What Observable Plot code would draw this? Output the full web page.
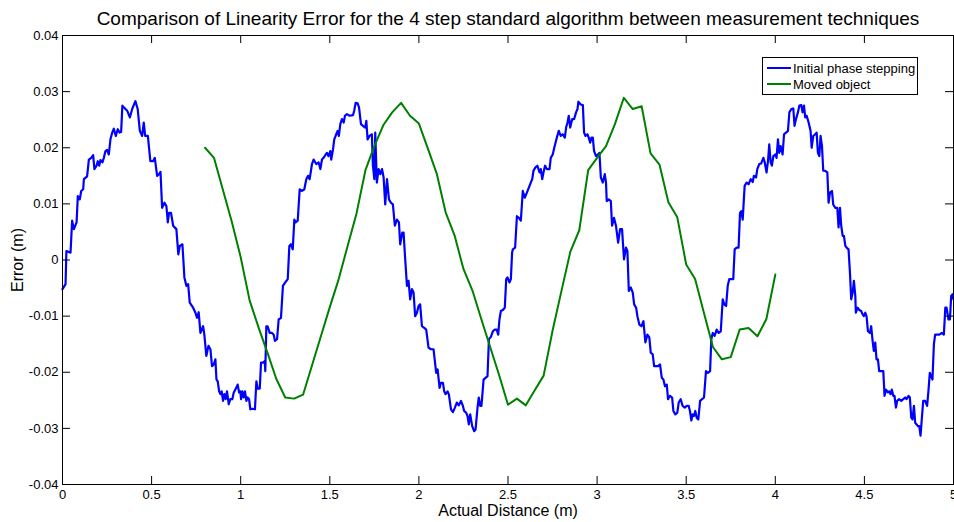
<!DOCTYPE html>
<html>
<head>
<meta charset="utf-8">
<script src="https://cdn.jsdelivr.net/npm/d3@7"></script>
<script src="https://cdn.jsdelivr.net/npm/@observablehq/plot@0.6"></script>
<style>
  html, body { margin: 0; padding: 0; background: #fff; }
  #chart { width: 954px; height: 522px; }
</style>
</head>
<body>
<div id="chart"></div>
<script>
const titleText = "Comparison of Linearity Error for the 4 step standard algorithm between measurement techniques";
const xLabel = "Actual Distance (m)";
const yLabel = "Error (m)";
const seriesNames = ["Initial phase stepping", "Moved object"];
const seriesColors = ["#0000ff", "#008000"];
const xTicks = [0, 0.5, 1, 1.5, 2, 2.5, 3, 3.5, 4, 4.5, 5];
const yTicks = [-0.04, -0.03, -0.02, -0.01, 0, 0.01, 0.02, 0.03, 0.04];

// Initial phase stepping (blue)
const blueX = [
0.000,0.017,0.022,0.045,0.054,0.064,0.079,0.086,0.097,0.105,0.116,0.120,0.138,0.148,0.161,0.172,0.179,0.191,0.198,0.206,
0.213,0.224,0.232,0.241,0.250,0.260,0.269,0.279,0.288,0.299,0.310,0.321,0.329,0.336,0.344,0.363,0.378,0.391,0.409,0.422,
0.434,0.447,0.456,0.464,0.479,0.493,0.508,0.518,0.531,0.542,0.550,0.559,0.572,0.583,0.591,0.598,0.609,0.621,0.639,0.650,
0.658,0.673,0.684,0.695,0.705,0.714,0.733,0.746,0.755,0.764,0.774,0.789,0.796,0.807,0.819,0.830,
0.839,0.849,0.858,0.864,0.871,0.879,0.886,0.893,0.901,0.908,0.916,0.923,0.933,0.942,0.953,0.961,0.970,0.983,0.991,0.998,
1.002,1.009,1.017,1.024,1.032,1.039,1.047,1.054,1.065,1.080,1.088,1.095,1.107,1.114,1.125,1.135,1.138,1.144,1.151,1.163,
1.176,1.185,1.192,1.204,1.213,1.226,1.237,1.250,1.264,1.273,1.282,1.292,1.301,1.308,1.320,1.331,1.344,1.357,1.368,1.378,
1.387,1.400,1.409,1.424,1.437,1.447,1.456,1.465,1.477,1.484,1.493,1.503,1.508,1.518,1.525,1.536,1.544,1.551,1.559,1.568,
1.578,1.585,1.596,1.611,1.630,1.637,1.645,1.656,1.664,1.675,
1.686,1.699,1.705,1.712,1.723,1.736,1.742,1.750,1.755,1.764,1.774,1.783,1.793,1.802,1.811,1.821,1.832,1.843,1.854,1.865,
1.877,1.888,1.895,1.907,1.914,1.922,1.933,1.942,1.951,1.961,1.970,1.979,1.989,1.998,2.007,2.017,2.030,2.041,2.054,2.067,
2.082,2.097,2.105,2.116,2.123,2.135,2.142,2.150,2.161,2.168,2.180,2.191,2.202,2.213,2.224,2.236,2.247,2.254,2.265,2.273,
2.280,2.288,2.299,2.310,2.318,2.329,2.336,2.344,2.351,2.363,2.374,2.385,2.393,2.404,2.415,2.426,2.437,2.445,2.452,2.460,
2.471,2.482,2.490,2.497,2.508,2.516,2.523,
2.527,2.540,2.550,2.561,2.572,2.583,2.594,2.606,2.617,2.628,2.636,2.643,2.654,2.665,2.677,2.684,2.692,2.699,2.708,2.718,
2.733,2.740,2.751,2.762,2.774,2.785,2.796,2.807,2.819,2.826,2.834,2.841,2.849,2.860,2.871,2.882,2.890,2.895,2.908,2.920,
2.927,2.935,2.946,2.953,2.961,2.968,2.976,2.983,2.994,3.006,3.013,3.021,3.032,3.043,3.050,3.054,3.065,3.077,3.084,3.095,
3.106,3.118,3.129,3.140,3.151,3.162,3.170,3.178,3.189,3.200,3.208,3.219,3.226,3.237,3.249,3.260,3.271,3.282,3.293,3.301,
3.312,3.320,3.331,3.342,3.353,3.363,
3.372,3.381,3.391,3.398,3.409,3.421,3.428,3.439,3.450,3.458,3.469,3.480,3.492,3.503,3.514,3.521,3.529,3.536,3.544,3.551,
3.559,3.568,3.578,3.589,3.600,3.611,3.622,3.634,3.641,3.649,3.660,3.671,3.682,3.694,3.705,3.714,3.724,3.733,3.742,3.753,
3.764,3.772,3.783,3.794,3.802,3.809,3.817,3.828,3.839,3.850,3.862,3.873,3.880,3.892,3.899,3.910,3.921,3.933,3.940,3.951,
3.959,3.966,3.974,3.981,3.989,4.000,4.007,4.015,4.022,4.030,4.041,4.049,4.060,4.071,4.079,4.090,4.101,4.108,4.116,4.127,
4.135,4.146,4.153,4.161,4.168,4.176,4.187,4.198,4.204,
4.213,4.224,4.232,4.239,4.247,4.254,4.262,4.269,4.280,4.292,4.299,4.307,4.318,4.325,4.336,4.348,4.355,4.363,4.370,4.378,
4.385,4.393,4.400,4.411,4.419,4.426,4.434,4.441,4.449,4.452,4.462,4.471,4.482,4.490,4.497,4.505,4.512,4.520,4.531,4.538,
4.546,4.553,4.561,4.568,4.576,4.583,4.594,4.606,4.613,4.621,4.632,4.639,4.647,4.654,4.662,4.669,4.677,4.684,4.695,4.707,
4.718,4.729,4.736,4.748,4.755,4.763,4.770,4.778,4.785,4.793,4.800,4.808,4.815,4.822,4.830,4.841,4.852,4.860,4.867,4.875,
4.882,4.890,4.897,4.908,4.920,4.935,4.946,4.954,4.961,4.972,4.980,4.987,4.995,5.000
];
const blueY = [
-0.0052,-0.0043,0.0016,0.0013,0.0070,0.0055,0.0067,0.0114,0.0108,0.0123,0.0126,0.0144,0.0149,0.0179,0.0182,0.0187,0.0162,0.0168,0.0176,0.0168,
0.0178,0.0174,0.0182,0.0194,0.0196,0.0188,0.0215,0.0227,0.0234,0.0221,0.0233,0.0227,0.0228,0.0275,0.0272,0.0266,0.0254,0.0269,0.0283,0.0269,
0.0230,0.0221,0.0245,0.0221,0.0221,0.0176,0.0176,0.0182,0.0150,0.0153,0.0157,0.0093,0.0102,0.0096,0.0067,0.0084,0.0084,0.0061,0.0055,0.0010,
0.0025,0.0028,-0.0031,-0.0046,-0.0043,-0.0076,-0.0085,-0.0094,-0.0103,-0.0093,-0.0130,-0.0118,-0.0133,-0.0171,-0.0153,-0.0159,
-0.0189,-0.0186,-0.0177,-0.0213,-0.0216,-0.0234,-0.0239,-0.0234,-0.0251,-0.0239,-0.0248,-0.0234,-0.0257,-0.0248,-0.0248,-0.0236,-0.0231,-0.0222,-0.0236,-0.0234,
-0.0248,-0.0234,-0.0245,-0.0234,-0.0251,-0.0245,-0.0248,-0.0266,-0.0265,-0.0266,-0.0216,-0.0229,-0.0229,-0.0183,-0.0183,-0.0180,-0.0198,-0.0118,-0.0118,-0.0130,
-0.0130,-0.0133,-0.0144,-0.0141,-0.0106,-0.0103,-0.0046,-0.0040,-0.0034,0.0025,0.0028,0.0019,0.0072,0.0067,0.0070,0.0126,0.0123,0.0126,0.0144,0.0150,
0.0144,0.0171,0.0179,0.0171,0.0174,0.0162,0.0179,0.0182,0.0188,0.0191,0.0185,0.0194,0.0179,0.0197,0.0215,0.0224,0.0230,0.0221,0.0242,0.0251,
0.0245,0.0257,0.0260,0.0257,0.0258,0.0266,0.0280,0.0279,0.0272,0.0242,
0.0239,0.0236,0.0248,0.0215,0.0221,0.0224,0.0168,0.0144,0.0227,0.0138,0.0162,0.0153,0.0162,0.0147,0.0099,0.0144,0.0108,0.0102,0.0099,0.0061,
0.0072,0.0067,0.0028,0.0049,0.0049,0.0007,-0.0046,-0.0037,-0.0070,-0.0052,-0.0058,-0.0100,-0.0094,-0.0082,-0.0079,-0.0118,-0.0121,-0.0124,-0.0156,-0.0159,
-0.0159,-0.0201,-0.0195,-0.0228,-0.0219,-0.0219,-0.0234,-0.0239,-0.0234,-0.0239,-0.0266,-0.0271,-0.0263,-0.0254,-0.0259,-0.0251,-0.0260,-0.0269,-0.0272,-0.0278,
-0.0293,-0.0275,-0.0296,-0.0305,-0.0302,-0.0263,-0.0245,-0.0260,-0.0260,-0.0213,-0.0210,-0.0207,-0.0141,-0.0137,-0.0127,-0.0124,-0.0124,-0.0133,-0.0106,-0.0091,
-0.0089,-0.0085,-0.0034,-0.0031,-0.0040,-0.0034,0.0013,
0.0019,0.0022,0.0078,0.0075,0.0070,0.0123,0.0111,0.0120,0.0129,0.0138,0.0144,0.0159,0.0165,0.0168,0.0156,0.0162,0.0144,0.0156,0.0168,0.0162,
0.0162,0.0182,0.0188,0.0203,0.0218,0.0230,0.0221,0.0224,0.0218,0.0236,0.0245,0.0257,0.0236,0.0251,0.0251,0.0263,0.0269,0.0282,0.0277,0.0276,
0.0227,0.0221,0.0224,0.0218,0.0209,0.0218,0.0218,0.0194,0.0185,0.0188,0.0191,0.0147,0.0138,0.0153,0.0138,0.0105,0.0108,0.0105,0.0061,0.0075,
0.0061,0.0031,0.0055,0.0055,0.0001,0.0022,0.0016,-0.0055,-0.0049,-0.0058,-0.0079,-0.0085,-0.0100,-0.0115,-0.0118,-0.0109,-0.0147,-0.0133,-0.0138,-0.0165,
-0.0168,-0.0189,-0.0189,-0.0189,-0.0186,-0.0210,
-0.0213,-0.0225,-0.0222,-0.0248,-0.0242,-0.0245,-0.0269,-0.0275,-0.0272,-0.0254,-0.0248,-0.0260,-0.0263,-0.0260,-0.0260,-0.0269,-0.0286,-0.0275,-0.0278,-0.0269,
-0.0281,-0.0284,-0.0251,-0.0248,-0.0245,-0.0198,-0.0201,-0.0198,-0.0141,-0.0130,-0.0135,-0.0124,-0.0130,-0.0127,-0.0070,-0.0079,-0.0082,-0.0046,-0.0034,-0.0034,
-0.0034,0.0019,0.0022,0.0022,0.0084,0.0087,0.0072,0.0132,0.0138,0.0135,0.0144,0.0139,0.0150,0.0147,0.0162,0.0171,0.0172,0.0182,0.0175,0.0156,
0.0176,0.0206,0.0174,0.0168,0.0185,0.0188,0.0182,0.0215,0.0191,0.0203,0.0188,0.0224,0.0227,0.0230,0.0263,0.0269,0.0270,0.0239,0.0251,0.0263,
0.0275,0.0276,0.0263,0.0275,0.0254,0.0257,0.0245,0.0230,0.0200,
0.0221,0.0224,0.0227,0.0191,0.0185,0.0221,0.0203,0.0159,0.0159,0.0156,0.0102,0.0120,0.0123,0.0099,0.0093,0.0093,0.0058,0.0093,0.0061,0.0043,
0.0043,0.0025,0.0022,0.0019,-0.0023,-0.0070,-0.0058,-0.0037,-0.0064,-0.0094,-0.0085,-0.0089,-0.0091,-0.0097,-0.0100,-0.0094,-0.0100,-0.0127,-0.0130,-0.0118,
-0.0144,-0.0162,-0.0147,-0.0177,-0.0177,-0.0198,-0.0198,-0.0198,-0.0242,-0.0231,-0.0236,-0.0234,-0.0239,-0.0231,-0.0242,-0.0242,-0.0263,-0.0251,-0.0248,-0.0251,
-0.0248,-0.0245,-0.0248,-0.0242,-0.0245,-0.0281,-0.0284,-0.0260,-0.0290,-0.0293,-0.0296,-0.0296,-0.0313,-0.0284,-0.0251,-0.0251,-0.0260,-0.0231,-0.0201,-0.0207,
-0.0213,-0.0150,-0.0133,-0.0133,-0.0133,-0.0130,-0.0133,-0.0085,-0.0085,-0.0106,-0.0106,-0.0064,-0.0061,-0.0070
];

// Moved object (green)
const greenX = [0.80,0.85,0.90,0.95,1.00,1.05,1.10,1.15,1.20,1.25,1.30,1.35,1.40,1.45,1.50,1.55,1.60,1.65,1.70,1.75,
  1.80,1.85,1.90,1.95,2.00,2.05,2.10,2.15,2.20,2.25,2.30,2.35,2.40,2.45,2.50,2.55,2.60,2.65,2.70,2.75,
  2.80,2.85,2.90,2.95,3.00,3.05,3.10,3.15,3.20,3.25,3.30,3.35,3.40,3.45,3.50,3.55,3.60,3.65,3.70,3.75,
  3.80,3.85,3.90,3.95,4.00];
const greenY = [0.0200,0.0182,0.0125,0.0068,0.0005,-0.0072,-0.0120,-0.0165,-0.0212,-0.0245,-0.0247,-0.0240,-0.0188,-0.0136,-0.0084,-0.0034,0.0025,0.0083,0.0160,0.0203,
  0.0240,0.0263,0.0280,0.0257,0.0243,0.0199,0.0154,0.0085,0.0044,-0.0016,-0.0054,-0.0105,-0.0155,-0.0205,-0.0258,-0.0247,-0.0259,-0.0232,-0.0206,-0.0126,
  -0.0055,0.0015,0.0053,0.0160,0.0182,0.0203,0.0242,0.0289,0.0269,0.0274,0.0190,0.0170,0.0103,0.0076,-0.0008,-0.0034,-0.0095,-0.0155,-0.0177,-0.0173,
  -0.0124,-0.0121,-0.0136,-0.0105,-0.0026];

const blue = blueX.map((x, i) => ({x, y: blueY[i]}));
const green = greenX.map((x, i) => ({x, y: greenY[i]}));

const W = 954, H = 522;
const mL = 62, mR = 1, mT = 35, mB = 38;
const plotW = W - mL - mR, plotH = H - mT - mB;
const tickLen = 8;
const fmtY = d => d === 0 ? "0" : String(+d.toFixed(2));
const fmtX = d => String(d);
const FONT = "'Liberation Sans', Arial, Helvetica, sans-serif";

const chart = Plot.plot({
  width: W, height: H,
  marginLeft: mL, marginRight: mR, marginTop: mT, marginBottom: mB,
  style: {fontFamily: FONT, fontSize: "13px", color: "#000", background: "#fff"},
  x: {domain: [0, 5]},
  y: {domain: [-0.04, 0.04]},
  marks: [
    Plot.line(blue, {x: "x", y: "y", stroke: seriesColors[0], strokeWidth: 2.2}),
    Plot.line(green, {x: "x", y: "y", stroke: seriesColors[1], strokeWidth: 2}),
    Plot.frame({stroke: "#000", strokeWidth: 1}),
    Plot.tickX(xTicks, {x: d => d, stroke: "#000", insetTop: plotH - tickLen}),
    Plot.tickX(xTicks, {x: d => d, stroke: "#000", insetBottom: plotH - tickLen}),
    Plot.tickY(yTicks, {y: d => d, stroke: "#000", insetRight: plotW - tickLen}),
    Plot.tickY(yTicks, {y: d => d, stroke: "#000", insetLeft: plotW - tickLen}),
    Plot.axisX(xTicks, {tickSize: 0, tickPadding: 5, tickFormat: fmtX, label: null, fontSize: 13}),
    Plot.axisY(yTicks, {tickSize: 0, tickPadding: 4, tickFormat: fmtY, label: null, fontSize: 13}),
    Plot.text([xLabel], {frameAnchor: "bottom", lineAnchor: "middle", textAnchor: "middle", dy: 26, fontSize: 16, fill: "#000"}),
    Plot.text([yLabel], {frameAnchor: "left", lineAnchor: "middle", textAnchor: "middle", dx: -45, rotate: -90, fontSize: 16, fill: "#000"}),
    Plot.text([titleText], {frameAnchor: "top", lineAnchor: "middle", textAnchor: "middle", dy: -17, fontSize: 19, fill: "#000"})
  ]
});
document.getElementById("chart").appendChild(chart);

// Legend (inside the plot, top right)
const svg = d3.select(chart);
const lg = svg.append("g").attr("font-family", FONT).attr("font-size", 13).attr("text-anchor", "start");
lg.append("rect").attr("x", 762.5).attr("y", 57.5).attr("width", 155).attr("height", 37)
  .attr("fill", "#fff").attr("stroke", "#000").attr("stroke-width", 1);
seriesNames.forEach((name, i) => {
  const cy = 68 + i * 16;
  lg.append("line").attr("x1", 767).attr("x2", 791).attr("y1", cy).attr("y2", cy)
    .attr("stroke", seriesColors[i]).attr("stroke-width", 2);
  lg.append("text").attr("x", 793).attr("y", cy + 4.5).attr("fill", "#000").attr("text-anchor", "start").text(name);
});
</script>
</body>
</html>
